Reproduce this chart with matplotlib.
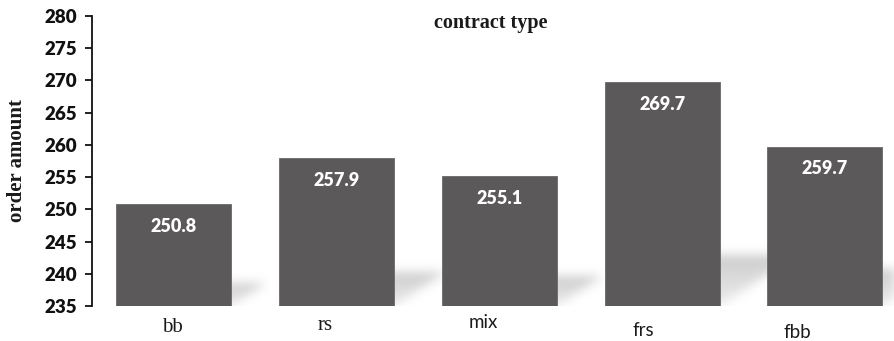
import matplotlib
matplotlib.use("Agg")
import matplotlib.pyplot as plt
import numpy as np
from matplotlib.path import Path

# Data
categories = ['bb', 'rs', 'mix', 'frs', 'fbb']
order_amount = [250.8, 257.9, 255.1, 269.7, 259.7]
y_ticks = [235, 240, 245, 250, 255, 260, 265, 270, 275, 280]

# Styling
bar_color = '#5b5959'
bar_width = 0.706
serif = 'Liberation Serif'
sans = 'Lato'
# per-label font family and (dx, dy) offsets in pixels from the bar centre / axis
label_fonts = [serif, serif, sans, sans, sans]
label_sizes = [15, 15, 13.5, 13.5, 13.5]
label_offsets = [(-1.5, 21), (-11, 20), (-16, 17), (-19, 24), (-28, 26)]

W, H, DPI = 895, 341, 100
fig = plt.figure(figsize=(W / DPI, H / DPI), dpi=DPI)
ax = fig.add_axes([92 / W, 35 / H, (W - 92) / W, 290 / H])

xlim = (-0.5, 4.43)
ylim = (235, 280)
x = np.arange(len(categories))

bars = ax.bar(x, np.array(order_amount) - ylim[0], bottom=ylim[0], width=bar_width,
              color=bar_color, edgecolor='#6a6868', linewidth=0.6, zorder=2)

# Soft perspective shadows cast to the upper right of each bar
ax_w = (W - 92)
ax_h = 290
px_x = ax_w / (xlim[1] - xlim[0])
px_y = ax_h / (ylim[1] - ylim[0])
gx, gy = np.meshgrid(np.arange(ax_w) + 0.5, np.arange(ax_h) + 0.5)
pts = np.column_stack([gx.ravel(), gy.ravel()])
mask = np.zeros(ax_h * ax_w)
for xi, v in zip(x, order_amount):
    h = (v - ylim[0]) * px_y
    xl = (xi - bar_width / 2 - xlim[0]) * px_x
    xr = (xi + bar_width / 2 - xlim[0]) * px_x
    s, hs = 0.35 * h, 0.23 * h
    poly = Path([(xl, 0), (xr, 0), (xr + s, hs), (xl + s, hs), (xl, 0)])
    inside = poly.contains_points(pts)
    t = np.clip(pts[:, 1] / max(hs, 1), 0, 1)
    mask = np.maximum(mask, inside * (0.35 + 0.65 * t))
mask = mask.reshape(ax_h, ax_w)

sigma = 5.0
k = np.arange(-15, 16)
kern = np.exp(-k ** 2 / (2 * sigma ** 2))
kern /= kern.sum()
mask = np.apply_along_axis(lambda r: np.convolve(r, kern, mode='same'), 1, mask)
mask = np.apply_along_axis(lambda c: np.convolve(c, kern, mode='same'), 0, mask)

shadow = np.zeros((ax_h, ax_w, 4))
shadow[..., :3] = 0.55
shadow[..., 3] = mask * 0.45
ax.imshow(shadow, origin='lower', extent=(xlim[0], xlim[1], ylim[0], ylim[1]),
          aspect='auto', zorder=1, interpolation='bilinear')

# Value labels inside the bars
for xi, v in zip(x, order_amount):
    ax.annotate(f'{v:.1f}', xy=(xi, v), xytext=(0, -22 * 0.72), textcoords='offset points',
                ha='center', va='center', color='white', fontsize=13,
                fontweight='heavy', family=sans, zorder=3)

# Category labels under the bars
for xi, name, fam, size, (dx, dy) in zip(x, categories, label_fonts, label_sizes, label_offsets):
    ax.annotate(name, xy=(xi, ylim[0]), xytext=(dx * 0.72, -dy * 0.72),
                textcoords='offset points', ha='center', va='center',
                fontsize=size, family=fam, color='#1a1a1a', annotation_clip=False)

ax.set_xlim(*xlim)
ax.set_ylim(*ylim)
ax.set_xticks([])
ax.set_yticks(y_ticks)
ax.tick_params(axis='y', direction='out', length=5, width=1.3, pad=6, colors='#111111')
for lbl in ax.get_yticklabels():
    lbl.set_fontfamily(sans)
    lbl.set_fontweight('heavy')
    lbl.set_fontsize(13.5)

for side in ['top', 'right', 'bottom']:
    ax.spines[side].set_visible(False)
ax.spines['left'].set_linewidth(1.3)
ax.spines['left'].set_color('#111111')

ax.set_ylabel('order amount', family=serif, fontweight='bold', fontsize=15,
              labelpad=12, color='#1a1a1a')
ax.text(0.496, 0.976, 'contract type', transform=ax.transAxes, ha='center', va='center',
        family=serif, fontweight='bold', fontsize=14.5, color='#1a1a1a')

fig.savefig('out.png', dpi=DPI)
